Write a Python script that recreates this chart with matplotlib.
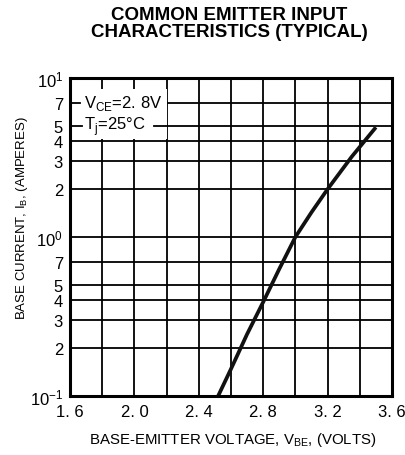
import matplotlib
matplotlib.use("Agg")
import matplotlib.pyplot as plt
from matplotlib.patches import Rectangle
from matplotlib.ticker import FixedLocator, NullLocator

# Data
vbe = [2.52, 2.6, 2.7, 2.8, 2.9, 3.0, 3.1, 3.2, 3.35, 3.5]
ib = [0.1, 0.148, 0.245, 0.39, 0.63, 1.0, 1.43, 2.0, 3.2, 4.9]

x_major = [1.6, 2.0, 2.4, 2.8, 3.2, 3.6]
x_major_labels = ["1. 6", "2. 0", "2. 4", "2. 8", "3. 2", "3. 6"]
x_grid = [1.6, 1.8, 2.0, 2.2, 2.4, 2.6, 2.8, 3.0, 3.2, 3.4, 3.6]
y_ticks = [0.1, 0.2, 0.3, 0.4, 0.5, 0.7, 1, 2, 3, 4, 5, 7, 10]
y_labels = [r"$\mathregular{10^{-1}}$", "2", "3", "4", "5", "7", r"$\mathregular{10^{0}}$",
            "2", "3", "4", "5", "7", r"$\mathregular{10^{1}}$"]

plt.rcParams['font.family'] = ['Liberation Sans', 'DejaVu Sans']

fig = plt.figure(figsize=(4.06, 4.56), dpi=100)
ax = fig.add_axes([70/406, 1-397/456, 322/406, 318/456])
ax.set_yscale('log')
ax.set_xlim(1.6, 3.6)
ax.set_ylim(0.1, 10)

ax.xaxis.set_major_locator(FixedLocator(x_major))
ax.set_xticklabels(x_major_labels)
ax.yaxis.set_major_locator(FixedLocator(y_ticks))
ax.yaxis.set_minor_locator(NullLocator())
ax.set_yticklabels(y_labels)
ax.tick_params(axis='both', length=0, labelsize=12, pad=5)
ax.tick_params(axis='x', pad=6)

# grid
for xv in x_grid:
    ax.axvline(xv, color='black', lw=1.3, zorder=1)
for yv in y_ticks:
    ax.axhline(yv, color='black', lw=1.3, zorder=1)

for s in ax.spines.values():
    s.set_linewidth(2.2)
    s.set_zorder(5)

# white area for annotations
ax.add_patch(Rectangle((1.615, 4.15), 0.585, 4.35, facecolor='white', edgecolor='none', zorder=2))
ax.plot([1.6, 1.665], [7, 7], color='black', lw=1.3, zorder=3)
ax.plot([1.6, 1.675], [5, 5], color='black', lw=1.3, zorder=3)
ax.plot([2.12, 2.2], [5, 5], color='black', lw=1.3, zorder=3)
ax.text(1.69, 7, r"V$_{\mathregular{CE}}$=2. 8V", fontsize=12, va='center', ha='left', zorder=4,
        bbox=dict(facecolor='white', edgecolor='none', pad=0.5))
ax.text(1.685, 5, r"T$_{\mathregular{j}}$=25°C", fontsize=12, va='center', ha='left', zorder=4)

ax.plot(vbe, ib, color='#111111', lw=2.7, zorder=4, solid_capstyle='butt')

fig.text(229/406, 1-24/456, "COMMON EMITTER INPUT\nCHARACTERISTICS (TYPICAL)",
         ha='center', va='center', fontsize=13.5, fontweight='bold', linespacing=0.95)
ax.set_xlabel(r"BASE-EMITTER VOLTAGE, V$_{\mathregular{BE}}$, (VOLTS)", fontsize=10.8, va='center')
ax.xaxis.set_label_coords((233-70)/322, -(440-397)/318)
ax.set_ylabel(r"BASE CURRENT, I$_{\mathregular{B}}$, (AMPERES)", fontsize=9.5, va='center')
ax.yaxis.set_label_coords(-(70-22)/322, (397-218)/318)

fig.savefig("out.png", dpi=100, facecolor='white')
